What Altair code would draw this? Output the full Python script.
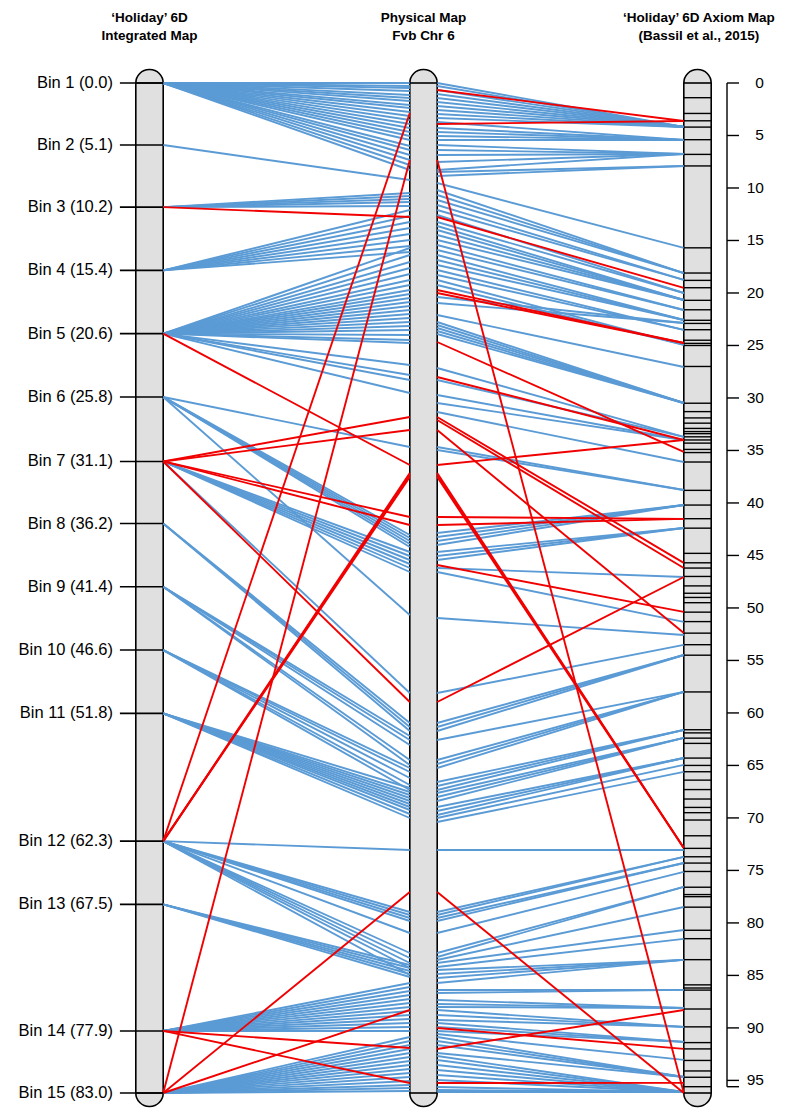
import altair as alt
import pandas as pd

# ---------------- data ----------------
LEFT_LEN = 83.0      # cM, 'Holiday' 6D integrated map
PHYS_LEN = 40.4      # Mb, Fvb Chr 6
AXIOM_LEN = 96.2     # cM, Axiom map

BIN_CM = [0.0, 5.1, 10.2, 15.4, 20.6, 25.8, 31.1, 36.2, 41.4, 46.6, 51.8, 62.3, 67.5, 77.9, 83.0]

# links bin -> physical position (Mb), per bin
LM_BLUE = [
    [0.00, 0.12, 0.20, 0.32, 0.48, 0.60, 0.72, 0.88, 1.00, 1.16, 1.32, 1.48, 1.64, 1.80, 1.96, 2.12, 2.28, 2.52, 2.68, 2.88, 3.08, 3.28, 3.48],
    [3.88],
    [4.40, 4.52, 4.64, 4.76, 4.92],
    [5.08, 5.32, 5.56, 5.80, 6.04, 6.28, 6.52, 6.76],
    [6.60, 6.88, 7.16, 7.40, 7.64, 7.88, 8.08, 8.28, 8.44, 8.60, 8.76, 8.92, 9.08, 9.24, 9.40, 9.56, 9.72, 9.88, 10.08, 10.28, 10.40, 11.28, 11.68, 11.88, 12.40],
    [14.56, 18.08, 18.20, 18.32, 18.44, 18.56, 21.28],
    [18.76, 18.92, 19.08, 19.24, 19.40, 19.56, 24.40],
    [25.60, 25.76, 25.92],
    [26.12, 26.28, 26.48, 27.08, 27.28],
    [27.40, 27.56, 27.80, 28.08, 28.28],
    [28.20, 28.36, 28.48, 28.60, 28.72, 28.84, 28.96, 29.08, 29.24, 29.40],
    [30.68, 33.16, 33.28, 33.40, 33.52, 34.00, 34.80, 35.00, 35.20, 35.40, 35.68],
    [35.28, 35.40, 35.52, 35.64, 35.76],
    [36.00, 36.16, 36.32, 36.48, 36.64, 36.80, 36.96, 37.12, 37.28, 37.44, 37.60, 37.76, 37.92],
    [38.16, 38.32, 38.48, 38.64, 38.80, 38.96, 39.12, 39.28, 39.44, 39.60, 39.76, 39.92, 40.08, 40.20, 40.32],
]
LM_RED = [
    [], [], [5.36], [], [15.28], [],
    [13.36, 13.88, 17.36, 17.68, 24.76],
    [], [], [], [],
    [1.20, 15.60, 15.68, 15.76],
    [],
    [38.60, 40.00],
    [3.08, 32.36, 37.08],
]

# links physical position (Mb) -> Axiom map (cM)
MR_BLUE_DST = [4.19, 5.43, 6.76, 7.90, 15.71, 18.10, 18.76, 20.00, 20.67, 21.62, 22.57, 23.52, 24.95,
               22.86, 27.05, 30.48, 33.71, 34.00, 36.10, 38.76, 40.19, 42.38, 47.05, 51.33, 52.57,
               53.52, 54.48, 58.00, 61.62, 62.38, 64.29, 64.95, 65.62, 73.05, 73.71, 74.29, 75.14,
               76.57, 78.48, 80.67, 81.52, 83.52, 86.38, 88.10, 89.90, 91.33, 93.05, 94.67, 96.10]
MR_BLUE_SRC = [
    [0.00, 0.12, 0.28, 0.44, 0.60, 0.76, 0.92, 1.08, 1.24, 1.40],
    [1.56, 1.80, 1.96, 2.12, 2.28],
    [2.48, 2.68, 2.88, 3.16, 3.48],
    [3.56, 3.72],
    [4.00],
    [4.28, 4.48, 4.68],
    [4.88, 5.08],
    [5.28, 5.56],
    [5.72, 5.88, 6.08, 6.28],
    [6.48, 6.68],
    [6.88, 7.08, 7.28],
    [7.48, 7.68],
    [7.88, 8.08],
    [8.56, 8.80],
    [9.28],
    [9.56, 9.68, 9.80, 9.92, 10.04],
    [11.40, 11.88],
    [12.48, 12.80],
    [13.16],
    [14.56, 14.68],
    [18.00, 18.16, 18.32, 18.48],
    [18.76, 18.92, 19.08],
    [19.40],
    [19.56],
    [21.40],
    [24.40],
    [25.60, 25.76, 25.92],
    [26.28, 27.08, 27.24, 27.40],
    [27.96, 28.12, 28.28],
    [28.40, 28.56, 28.72],
    [28.96, 29.12, 29.28],
    [29.40],
    [29.56],
    [30.68],
    [33.16, 33.28],
    [33.40, 33.52],
    [34.00],
    [34.80, 34.96],
    [35.08],
    [35.20],
    [35.36],
    [35.48, 35.64, 35.80, 36.00],
    [36.28, 36.40],
    [36.68, 36.84, 36.96],
    [37.08, 37.28, 37.48],
    [37.60, 37.76, 37.92],
    [38.04],
    [38.16, 38.32, 38.48, 38.80],
    [38.92, 39.08, 39.28, 39.48, 39.68, 39.88, 40.16, 40.28, 40.36],
]
MR_RED_SRC = [0.28, 1.64, 3.08, 5.36, 8.28, 8.40, 10.36, 11.76, 13.36, 13.48, 13.88, 15.28,
              15.60, 15.68, 15.76, 17.36, 17.68, 19.28, 24.76, 32.36, 37.80, 38.64, 40.00]
MR_RED_DST = [3.62, 3.62, 96.2, 19.52, 24.76, 24.76, 35.14, 34.00, 45.71, 46.19, 52.38, 34.00,
              72.86, 72.86, 72.86, 41.52, 41.52, 50.38, 47.05, 96.2, 92.00, 88.29, 95.24]

AXIOM_MARKS = [1.4, 2.9, 3.6, 4.2, 5.4, 6.8, 7.9, 15.7, 18.1, 18.8, 19.5, 20.7, 21.6, 22.6, 22.9,
               23.5, 24.5, 24.8, 25.0, 27.0, 30.5, 31.3, 31.9, 32.4, 32.9, 33.2, 33.4, 33.7, 34.0,
               34.3, 34.9, 35.2, 36.1, 38.8, 40.2, 41.5, 42.4, 44.8, 45.7, 46.2, 47.0, 47.9, 48.6,
               49.0, 49.5, 50.4, 51.3, 52.4, 53.5, 54.5, 58.0, 61.6, 61.9, 62.4, 62.9, 64.3, 65.0,
               65.6, 66.4, 67.3, 68.2, 69.0, 69.5, 70.2, 71.7, 72.9, 73.7, 74.3, 75.1, 76.6, 77.3,
               77.5, 78.5, 80.7, 81.5, 83.5, 85.9, 86.2, 86.4, 88.2, 89.9, 91.4, 92.0, 93.1, 94.1,
               94.7, 95.6]
AXIS_TICKS = list(range(0, 100, 5))
AXIS_END = 95.6

TITLES = [["\u2018Holiday\u2019 6D", "Integrated Map"],
          ["Physical Map", "Fvb Chr 6"],
          ["\u2018Holiday\u2019 6D Axiom Map", "(Bassil et al., 2015)"]]

BLUE = "#5b9bd5"
RED = "#f00000"
BAR_FILL = "#e0e0e0"
FONT = "Liberation Sans"

# ---------------- geometry (track units) ----------------
HALF = 0.05
CAP = 13.5 / 1010
XS = alt.Scale(domain=[-0.51642, 2.30110], nice=False, zero=False)
YS = alt.Scale(domain=[-0.074257, 1.015842], nice=False, zero=False, reverse=True)

# ---------------- tables ----------------
rows = []
for i, cm in enumerate(BIN_CM):
    for mb in LM_BLUE[i]:
        rows.append(dict(x0=HALF, x1=1 - HALF, y0=cm / LEFT_LEN, y1=mb / PHYS_LEN, kind="blue", o=0))
for dst, srcs in zip(MR_BLUE_DST, MR_BLUE_SRC):
    for mb in srcs:
        rows.append(dict(x0=1 + HALF, x1=2 - HALF, y0=mb / PHYS_LEN, y1=dst / AXIOM_LEN, kind="blue", o=0))
for i, cm in enumerate(BIN_CM):
    for mb in LM_RED[i]:
        rows.append(dict(x0=HALF, x1=1 - HALF, y0=cm / LEFT_LEN, y1=mb / PHYS_LEN, kind="red", o=1))
for mb, dst in zip(MR_RED_SRC, MR_RED_DST):
    rows.append(dict(x0=1 + HALF, x1=2 - HALF, y0=mb / PHYS_LEN, y1=dst / AXIOM_LEN, kind="red", o=1))
links = pd.DataFrame(rows)

bars = pd.DataFrame({"x0": [t - HALF for t in (0, 1, 2)], "x1": [t + HALF for t in (0, 1, 2)],
                     "y0": [-CAP] * 3, "y1": [1 + CAP] * 3})
caps = pd.DataFrame({"x0": [t - HALF for t in (0, 1, 2)] * 2, "x1": [t + HALF for t in (0, 1, 2)] * 2,
                     "y": [0.0] * 3 + [1.0] * 3})
bins = pd.DataFrame({"y": [c / LEFT_LEN for c in BIN_CM],
                     "label": [f"Bin {i + 1} ({c:.1f})" for i, c in enumerate(BIN_CM)],
                     "x0": -0.108, "x1": HALF, "xt": -0.1332})
marks = pd.DataFrame({"y": [a / AXIOM_LEN for a in AXIOM_MARKS], "x0": 2 - HALF, "x1": 2 + HALF})
ax_line = pd.DataFrame({"x": [2.1077], "y0": [0.0], "y1": [AXIS_END / AXIOM_LEN]})
ax_ticks = pd.DataFrame({"y": [t / AXIOM_LEN for t in AXIS_TICKS] + [AXIS_END / AXIOM_LEN],
                         "x0": 2.1077, "x1": 2.1515})
ax_labels = pd.DataFrame({"y": [t / AXIOM_LEN for t in AXIS_TICKS], "label": [str(t) for t in AXIS_TICKS],
                          "x": 2.2427})
titles = pd.DataFrame({"x": [0, 0, 1, 1, 2.005, 2.005],
                       "y": [-0.0644, -0.0470] * 3,
                       "label": [s for pair in TITLES for s in pair]})

X = lambda f: alt.X(f, type="quantitative", scale=XS, axis=None)
Y = lambda f: alt.Y(f, type="quantitative", scale=YS, axis=None)

bar_layer = alt.Chart(bars).mark_rect(cornerRadius=13.5, fill=BAR_FILL, stroke="black", strokeWidth=1.6).encode(
    x=X("x0"), x2="x1", y=Y("y0"), y2="y1")
link_layer = alt.Chart(links).mark_rule(strokeWidth=1.9).encode(
    x=X("x0"), x2="x1", y=Y("y0"), y2="y1",
    color=alt.Color("kind:N", scale=alt.Scale(domain=["blue", "red"], range=[BLUE, RED]), legend=None),
    order=alt.Order("o:Q"))
cap_layer = alt.Chart(caps).mark_rule(color="black", strokeWidth=1.6).encode(x=X("x0"), x2="x1", y=Y("y"))
bin_tick_layer = alt.Chart(bins).mark_rule(color="black", strokeWidth=1.6).encode(x=X("x0"), x2="x1", y=Y("y"))
bin_text_layer = alt.Chart(bins).mark_text(align="right", baseline="middle", fontSize=16.5, font=FONT,
                                           color="black").encode(x=X("xt"), y=Y("y"), text="label:N")
mark_layer = alt.Chart(marks).mark_rule(color="black", strokeWidth=1.4).encode(x=X("x0"), x2="x1", y=Y("y"))
ax_line_layer = alt.Chart(ax_line).mark_rule(color="black", strokeWidth=1.4).encode(x=X("x"), y=Y("y0"), y2="y1")
ax_tick_layer = alt.Chart(ax_ticks).mark_rule(color="black", strokeWidth=1.4).encode(x=X("x0"), x2="x1", y=Y("y"))
ax_text_layer = alt.Chart(ax_labels).mark_text(align="right", baseline="middle", fontSize=15.5, font=FONT,
                                               color="black").encode(x=X("x"), y=Y("y"), text="label:N")
title_layer = alt.Chart(titles).mark_text(align="center", baseline="middle", fontSize=13.5, fontWeight="bold",
                                          font=FONT, color="black").encode(x=X("x"), y=Y("y"), text="label:N")

chart = alt.layer(
    bar_layer, link_layer, cap_layer, bin_tick_layer, bin_text_layer, mark_layer,
    ax_line_layer, ax_tick_layer, ax_text_layer, title_layer
).properties(
    width=772, height=1101, padding=0, autosize=alt.AutoSizeParams(type="none")
).configure_view(strokeWidth=0)

chart.save("out.html", embed_options={"renderer": "svg", "actions": False})
